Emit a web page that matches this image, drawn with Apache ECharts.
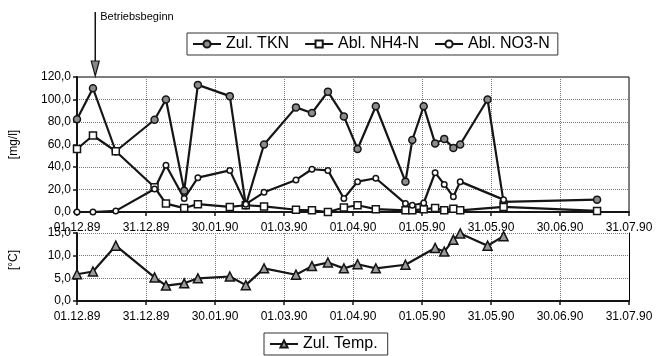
<!DOCTYPE html>
<html><head><meta charset="utf-8">
<script src="https://cdn.jsdelivr.net/npm/echarts@6/dist/echarts.min.js"></script>
<style>html,body{margin:0;padding:0;background:#fff}#c{width:665px;height:356px}</style>
</head><body><div id="c"></div>
<script>
// ---- data ----
const axisStart = '1989-12-01';
const axisEnd = '1990-07-31';
const tickStepDays = 30.25;
const sampleDates = ['1989-12-01','1989-12-08','1989-12-18','1990-01-04','1990-01-09','1990-01-17','1990-01-23','1990-02-06','1990-02-13','1990-02-21','1990-03-07','1990-03-14','1990-03-21','1990-03-28','1990-04-03','1990-04-11','1990-04-24','1990-04-27','1990-05-02','1990-05-07','1990-05-11','1990-05-15','1990-05-18','1990-05-30','1990-06-06','1990-07-17'];
const zulTKN = [82.5,110,54,82,100,19,113,103,6,60,93,88,107,85,56,94,27,64,94,61,65,57,60,100,9,11];
const ablNH4 = [56,68,54,22,7.5,3.5,7,4.5,6,5,2,1.5,0,4,6,2.5,1.5,1.5,2.5,3.5,1.5,3,1.5,null,4.5,1];
const ablNO3 = [0,0,1,20.5,41.5,12,30.5,37,7,17.5,28.5,38,37,12,27,30,7.5,6,8,35,24.5,13.5,27,null,11,null];
const tempDates = ['1989-12-01','1989-12-08','1989-12-18','1990-01-04','1990-01-09','1990-01-17','1990-01-23','1990-02-06','1990-02-13','1990-02-21','1990-03-07','1990-03-14','1990-03-21','1990-03-28','1990-04-03','1990-04-11','1990-04-24','1990-05-07','1990-05-11','1990-05-15','1990-05-18','1990-05-30','1990-06-06'];
const zulTemp = [5.9,6.5,12.2,5.2,3.4,3.9,5.0,5.4,3.5,7.2,5.8,7.7,8.5,7.2,8.1,7.2,8.0,11.7,10.9,13.5,14.9,12.2,14.3];
const seriesNames = ['Zul. TKN','Abl. NH4-N','Abl. NO3-N','Zul. Temp.'];
const yNames = ['[mg/l]','[°C]'];
const startOfOperation = '1989-12-09';
const startLabel = 'Betriebsbeginn';

// ---- helpers ----
const DAY = 86400000;
const base = Date.parse(axisStart + 'T00:00:00Z');
function dayOf(s){ return Math.round((Date.parse(s + 'T00:00:00Z') - base) / DAY); }
function pad(n){ return (n < 10 ? '0' : '') + n; }
function fmtDate(v){
  const d = new Date(base + Math.floor(v + 1e-6) * DAY);
  return pad(d.getUTCDate()) + '.' + pad(d.getUTCMonth() + 1) + '.' + String(d.getUTCFullYear()).slice(2);
}
function fmtNum(v){ return v.toFixed(1).replace('.', ','); }
function pairs(dates, vals){
  const out = [];
  dates.forEach((d, i) => { if (vals[i] !== null && vals[i] !== undefined) out.push([dayOf(d), vals[i]]); });
  return out;
}
const maxDay = dayOf(axisEnd);
const FONT = '"Liberation Sans", Arial, sans-serif';
const ink = '#151515';

function xAxisCfg(gi, margin){
  return {
    type: 'value', gridIndex: gi, min: 0, max: maxDay, interval: tickStepDays,
    axisLine: { show: true, onZero: false, lineStyle: { color: ink, width: 2 } },
    axisTick: { show: true, inside: false, length: 4, lineStyle: { color: ink, width: 1.5 } },
    axisLabel: { formatter: fmtDate, margin: margin, fontSize: 12, color: '#000', fontFamily: FONT },
    splitLine: { show: true, lineStyle: { type: 'dotted', color: '#777', width: 1 } }
  };
}
function yAxisCfg(gi, max, interval, name, padLeft){
  return {
    type: 'value', gridIndex: gi, min: 0, max: max, interval: interval,
    name: name, nameLocation: 'middle', nameRotate: 90, nameGap: 57,
    nameTextStyle: { fontSize: 12, color: '#000', fontFamily: FONT, padding: [0,0,0,padLeft] },
    axisLine: { show: true, lineStyle: { color: ink, width: 2 } },
    axisTick: { show: true, inside: false, length: 4, lineStyle: { color: ink, width: 1.5 } },
    axisLabel: { formatter: fmtNum, margin: 6, fontSize: 12, color: '#000', fontFamily: FONT },
    splitLine: { show: true, lineStyle: { type: 'dotted', color: '#777', width: 1 } }
  };
}
function lineSeries(name, data, symbol, size, fill, xi, yi){
  return {
    name: name, type: 'line', xAxisIndex: xi, yAxisIndex: yi, data: data,
    symbol: symbol, symbolSize: size, showSymbol: true,
    lineStyle: { color: ink, width: 2.2 },
    itemStyle: { color: fill, borderColor: ink, borderWidth: 1.5 },
    emphasis: { disabled: true }, animation: false
  };
}

const chart = echarts.init(document.getElementById('c'), null, { renderer: 'canvas' });
chart.setOption({
  backgroundColor: '#fff',
  animation: false,
  grid: [
    { left: 73, right: 36, top: 77, height: 135, show: true, borderColor: '#000', borderWidth: 1, backgroundColor: 'transparent' },
    { left: 73, right: 36, top: 233, height: 68 }
  ],
  xAxis: [ xAxisCfg(0, 10), xAxisCfg(1, 10) ],
  yAxis: [
    yAxisCfg(0, 120, 20, yNames[0], 0),
    yAxisCfg(1, 15, 5, yNames[1], 14),
    { type: 'value', gridIndex: 1, position: 'right', min: 0, max: 15,
      axisLine: { show: true, lineStyle: { color: '#000', width: 1 } },
      axisTick: { show: false }, axisLabel: { show: false }, splitLine: { show: false } }
  ],
  legend: [
    { data: seriesNames.slice(0,3), left: 187, top: 33, itemWidth: 28, itemHeight: 9, itemGap: 15,
      borderColor: '#333', borderWidth: 1, padding: [3,8,3,5],
      textStyle: { fontSize: 16, color: '#000', fontFamily: FONT } },
    { data: [seriesNames[3]], left: 264, top: 333, itemWidth: 28, itemHeight: 9,
      borderColor: '#333', borderWidth: 1, padding: [3,10,3,5],
      textStyle: { fontSize: 16, color: '#000', fontFamily: FONT } }
  ],
  series: [
    lineSeries(seriesNames[0], pairs(sampleDates, zulTKN), 'circle', 7, '#8c8c8c', 0, 0),
    lineSeries(seriesNames[1], pairs(sampleDates, ablNH4), 'rect', 7, '#ffffff', 0, 0),
    lineSeries(seriesNames[2], pairs(sampleDates, ablNO3), 'circle', 5.5, '#ffffff', 0, 0),
    lineSeries(seriesNames[3], pairs(tempDates, zulTemp), 'triangle', 9, '#9a9a9a', 1, 1)
  ]
});

const ax = chart.convertToPixel({ xAxisIndex: 0 }, dayOf(startOfOperation));
chart.setOption({
  graphic: [
    { type: 'line', shape: { x1: ax, y1: 12, x2: ax, y2: 62 }, style: { stroke: ink, lineWidth: 1.5 } },
    { type: 'polygon', shape: { points: [[ax-4,61],[ax+4,61],[ax,76]] }, style: { fill: '#888', stroke: ink, lineWidth: 1.2 } },
    { type: 'text', x: ax + 5, y: 17, style: { text: startLabel, fontSize: 11, fontFamily: FONT, fill: '#000', verticalAlign: 'middle', align: 'left' } }
  ]
});
</script>
</body></html>
